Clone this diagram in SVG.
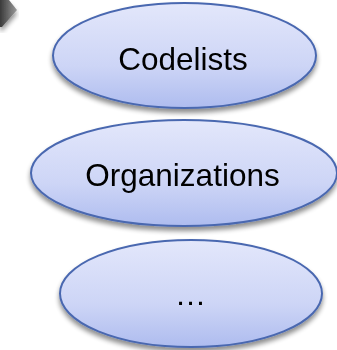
<svg xmlns="http://www.w3.org/2000/svg" width="337" height="350" viewBox="0 0 337 350">
<style>
.node ellipse{fill:url(#g);stroke:#4a68b0;stroke-width:2}
.node text{font-family:"Liberation Sans",Arial,sans-serif;font-size:31.5px;fill:#000;text-anchor:middle}
</style>
<defs>
<linearGradient id="g" x1="0" y1="0" x2="0" y2="1">
<stop offset="0" stop-color="#e3e7fb"/>
<stop offset="0.6" stop-color="#cdd5f6"/>
<stop offset="1" stop-color="#aebcef"/>
</linearGradient>
<linearGradient id="gg" x1="0" y1="0" x2="1" y2="0">
<stop offset="0" stop-color="#3a3a3a"/>
<stop offset="1" stop-color="#9a9a9a"/>
</linearGradient>
<filter id="sh" x="-10%" y="-10%" width="120%" height="130%">
<feGaussianBlur in="SourceAlpha" stdDeviation="2.5"/>
<feOffset dx="0" dy="4" result="b"/>
<feComponentTransfer><feFuncA type="linear" slope="0.45"/></feComponentTransfer>
<feMerge><feMergeNode/><feMergeNode in="SourceGraphic"/></feMerge>
</filter>
</defs>
<g id="corner">
<polygon points="0,0 9,0 17,10 2,27 0,27" fill="url(#gg)" filter="url(#sh)"/>
</g>
<g id="connectors"/>
<g id="codelists" class="node" filter="url(#sh)">
<ellipse cx="184.5" cy="55.5" rx="131.5" ry="52.5"/>
<text x="183" y="70">Codelists</text>
</g>
<g id="organizations" class="node" filter="url(#sh)">
<ellipse cx="184" cy="173" rx="153" ry="53"/>
<text x="182.5" y="186">Organizations</text>
</g>
<g id="more" class="node" filter="url(#sh)">
<ellipse cx="191" cy="293.5" rx="131" ry="53.5"/>
<text x="190.5" y="305">…</text>
</g>
</svg>
